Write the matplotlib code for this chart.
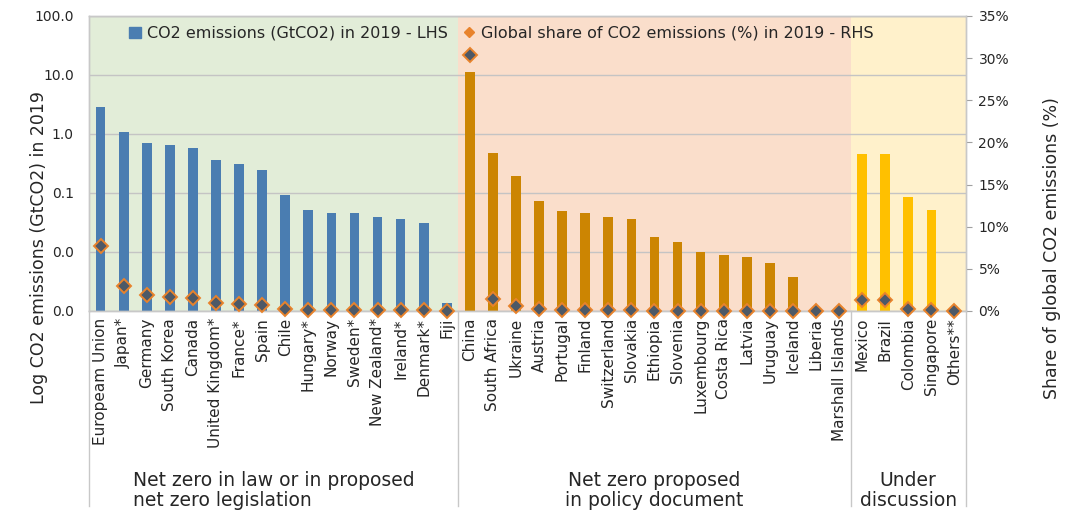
import matplotlib

matplotlib.use("Agg")
import matplotlib.pyplot as plt
from matplotlib.lines import Line2D
from matplotlib.patches import Patch
from matplotlib.ticker import FixedLocator, FuncFormatter
import numpy as np

# Countries by net-zero status
law_countries = [
    "Europeam Union", "Japan*", "Germany", "South Korea", "Canada",
    "United Kingdom*", "France*", "Spain", "Chile", "Hungary*", "Norway",
    "Sweden*", "New Zealand*", "Ireland*", "Denmark*", "Fiji",
]
law_emissions = [2.9, 1.09, 0.70, 0.66, 0.58, 0.36, 0.31, 0.25, 0.091,
                 0.051, 0.046, 0.045, 0.039, 0.036, 0.031, 0.00135]
law_share = [7.7, 3.0, 1.9, 1.7, 1.6, 1.0, 0.8, 0.7, 0.25, 0.14, 0.12,
             0.12, 0.10, 0.10, 0.08, 0.0]

policy_countries = [
    "China", "South Africa", "Ukraine", "Austria", "Portugal", "Finland",
    "Switzerland", "Slovakia", "Ethiopia", "Slovenia", "Luxembourg",
    "Costa Rica", "Latvia", "Uruguay", "Iceland", "Liberia",
    "Marshall Islands",
]
policy_emissions = [11.4, 0.48, 0.196, 0.073, 0.050, 0.045, 0.039, 0.036,
                    0.018, 0.0148, 0.0099, 0.0090, 0.0083, 0.0064, 0.0038,
                    0.0009, 0.0002]
policy_share = [30.4, 1.4, 0.6, 0.2, 0.14, 0.12, 0.10, 0.10, 0.05, 0.04,
                0.03, 0.02, 0.02, 0.02, 0.01, 0.0, 0.0]

discussion_countries = ["Mexico", "Brazil", "Colombia", "Singapore", "Others**"]
discussion_emissions = [0.46, 0.46, 0.087, 0.051, 0.0]
discussion_share = [1.3, 1.3, 0.24, 0.14, 0.0]

group_labels = [
    "Net zero in law or in proposed\nnet zero legislation",
    "Net zero proposed\nin policy document",
    "Under\ndiscussion",
]

BAR_COLORS = ["#4a7db1", "#cc8502", "#ffc000"]
BG_COLORS = ["#e2edd8", "#fadecb", "#fff1cb"]
TEXT = "#262626"
GRID = "#c4c4c4"

groups = [
    (law_countries, law_emissions, law_share),
    (policy_countries, policy_emissions, policy_share),
    (discussion_countries, discussion_emissions, discussion_share),
]

plt.rcParams["font.family"] = ["DejaVu Sans"]

fig = plt.figure(figsize=(10.78, 5.11), dpi=100)
ax = fig.add_axes([0.0826, 0.3914, 0.8135, 0.5773])
ax2 = ax.twinx()

labels = []
shares = []
start = 0
bounds = [0]
for (names, emis, share), bar_c, bg_c in zip(groups, BAR_COLORS, BG_COLORS):
    x = np.arange(start, start + len(names))
    ax.axvspan(start - 0.5, start + len(names) - 0.5, color=bg_c, zorder=0, lw=0)
    ax.bar(x, emis, width=0.42, color=bar_c, zorder=2)
    labels += names
    shares += share
    start += len(names)
    bounds.append(start)

n = len(labels)
xs = np.arange(n)
ax2.plot(xs, shares, ls="none", marker="D", ms=7.5, mfc="#4d5967",
         mec="#e8832c", mew=1.4, zorder=3, clip_on=False)

# left: log emissions
ax.set_yscale("log")
ax.set_ylim(1e-3, 100)
ax.set_xlim(-0.5, n - 0.5)
ax.yaxis.set_major_locator(FixedLocator([1e-3, 1e-2, 1e-1, 1, 10, 100]))
ax.yaxis.set_minor_locator(FixedLocator([]))
ax.yaxis.set_major_formatter(FuncFormatter(lambda v, _: f"{v:.1f}"))
ax.grid(axis="y", color=GRID, lw=1.0, zorder=1)
ax.set_axisbelow(True)
ax.tick_params(axis="y", length=0, pad=11, labelsize=10, labelcolor=TEXT)
ax.set_xticks(xs)
ax.set_xticklabels(labels, rotation=90, fontsize=11, color=TEXT)
ax.tick_params(axis="x", length=0, pad=5)

# right: global share
ax2.set_ylim(0, 35)
ax2.set_yticks(np.arange(0, 36, 5))
ax2.yaxis.set_major_formatter(FuncFormatter(lambda v, _: f"{v:.0f}%"))
ax2.tick_params(axis="y", length=4, width=0.8, color="#a0a0a0", pad=5,
                labelsize=10, labelcolor=TEXT)

for a in (ax, ax2):
    for s in a.spines.values():
        s.set_color("#c8c8c8")
        s.set_linewidth(1.0)

ax.set_ylabel("Log CO2 emissions (GtCO2) in 2019", fontsize=12.5, color=TEXT)
ax.yaxis.set_label_coords(-0.047, 0.214)
ax2.set_ylabel("Share of global CO2 emissions (%)", fontsize=12.5, color=TEXT)
ax2.yaxis.set_label_coords(1.088, 0.214)

# group separators below the plot and the group captions
trans = ax.get_xaxis_transform()
for b in bounds:
    ax.plot([b - 0.5, b - 0.5], [0, -0.66], transform=trans, color="#c8c8c8",
            lw=1.0, clip_on=False)
for i, text in enumerate(group_labels):
    mid = (bounds[i] + bounds[i + 1]) / 2 - 0.5
    ax.text(mid, -0.542, text, transform=trans, ha="center", va="top",
            multialignment="left" if i == 0 else "center", fontsize=13.5,
            color=TEXT, linespacing=1.1)

ax.legend(
    handles=[Patch(color=BAR_COLORS[0], label="CO2 emissions (GtCO2) in 2019 - LHS")],
    loc="upper left", bbox_to_anchor=(0.046, 0.967), frameon=False,
    handlelength=0.7, handleheight=0.7, handletextpad=0.4, borderpad=0,
    borderaxespad=0, fontsize=11.5, labelcolor=TEXT,
)
ax2.legend(
    handles=[Line2D([], [], ls="none", marker="D", ms=5, mfc="#e8832c",
                    mec="#e8832c", label="Global share of CO2 emissions (%) in 2019 - RHS")],
    loc="upper left", bbox_to_anchor=(0.427, 0.967), frameon=False,
    handlelength=0.7, handletextpad=0.4, borderpad=0, borderaxespad=0,
    fontsize=11.5, labelcolor=TEXT,
)

fig.savefig("out.png", dpi=100)
